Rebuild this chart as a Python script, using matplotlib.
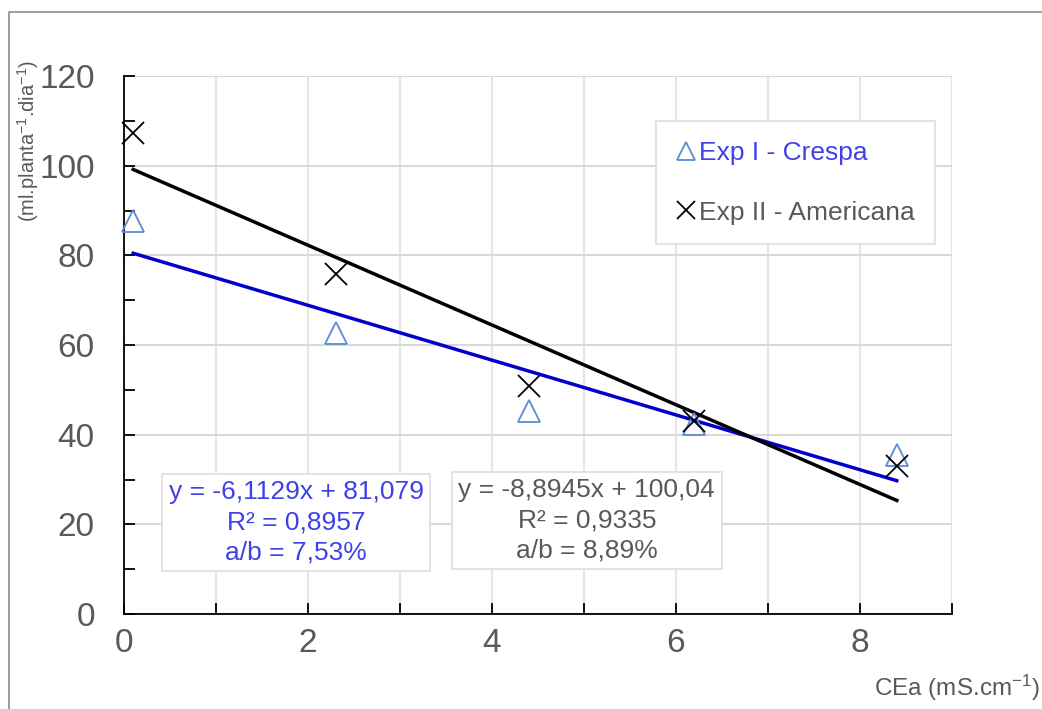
import matplotlib.pyplot as plt
import matplotlib
from matplotlib.lines import Line2D
from matplotlib.patches import Rectangle
from matplotlib.ticker import MultipleLocator

matplotlib.rcParams['font.family'] = 'Liberation Sans'
matplotlib.rcParams['mathtext.fontset'] = 'custom'
matplotlib.rcParams['mathtext.rm'] = 'Liberation Sans'
matplotlib.rcParams['mathtext.it'] = 'Liberation Sans'

# CEa (mS/cm) and water consumption for each experiment
cea = [0.1, 2.3, 4.4, 6.2, 8.4]
crespa = [87.7, 62.7, 45.3, 42.4, 35.5]
americana = [107.3, 75.8, 50.9, 43.0, 33.0]

# linear fits (slope, intercept) as reported
fit_crespa = (-6.1129, 81.079)
fit_americana = (-8.8945, 100.04)
eq_crespa = "y = -6,1129x + 81,079\nR² = 0,8957\na/b = 7,53%"
eq_americana = "y = -8,8945x + 100,04\nR² = 0,9335\na/b = 8,89%"

GREY = "#595959"
TRI = "#5B8BD6"
BLUE_TXT = "#4040E8"

fig = plt.figure(figsize=(10.42, 7.09), dpi=100)
fig.patches.append(Rectangle((9 / 1042, -0.1), 1.2, 1.1 - 12 / 709, transform=fig.transFigure,
                             fill=False, edgecolor="#8c8c8c", linewidth=1.2))
ax = fig.add_axes([124 / 1042, 1 - 614 / 709, 828 / 1042, 538 / 709])

x0, x1 = cea[0], cea[-1]
ax.plot([x0, x1], [fit_crespa[0] * x0 + fit_crespa[1], fit_crespa[0] * x1 + fit_crespa[1]],
        color="#0000CC", linewidth=2.5, zorder=3)
ax.plot([x0, x1], [fit_americana[0] * x0 + fit_americana[1], fit_americana[0] * x1 + fit_americana[1]],
        color="black", linewidth=2.5, zorder=3)
ax.plot(cea, crespa, linestyle="none", marker="^", markersize=16, markerfacecolor="none",
        markeredgecolor=TRI, markeredgewidth=1.3, zorder=4, clip_on=False)
ax.plot(cea, americana, linestyle="none", marker="x", markersize=16, color="black",
        markeredgewidth=1.3, zorder=4, clip_on=False)

ax.set_xlim(0, 9)
ax.set_ylim(0, 120)
ax.xaxis.set_major_locator(MultipleLocator(2))
ax.xaxis.set_minor_locator(MultipleLocator(1))
ax.yaxis.set_major_locator(MultipleLocator(20))
ax.yaxis.set_minor_locator(MultipleLocator(10))
ax.grid(True, which="major", axis="y", color="#D9D9D9", linewidth=1.5)
ax.grid(True, which="both", axis="x", color="#E6E6E6", linewidth=1.5)
ax.set_axisbelow(True)
ax.tick_params(which="both", direction="in", length=8, width=1.3, colors="black",
               labelcolor=GREY, labelsize=24)
ax.tick_params(axis="y", pad=21)
ax.tick_params(axis="x", pad=10)
ax.spines["top"].set_visible(False)
ax.spines["right"].set_visible(False)
ax.spines["left"].set_linewidth(1.3)
ax.spines["bottom"].set_linewidth(1.3)

fig.text(28 / 1042, 1 - 141 / 709, r"(ml.planta$^{-1}$.dia$^{-1}$)", rotation=90,
         ha="center", va="center", fontsize=14.5, color=GREY)
fig.text(1040 / 1042, 1 - 688 / 709, r"CEa (mS.cm$^{-1}$)", ha="right", va="center",
         fontsize=17.5, color=GREY)

handles = [
    Line2D([], [], linestyle="none", marker="^", markersize=13, markerfacecolor="none",
           markeredgecolor=TRI, markeredgewidth=1.3),
    Line2D([], [], linestyle="none", marker="x", markersize=13, color="black", markeredgewidth=1.3),
]
leg = ax.legend(handles, ["Exp I - Crespa", "Exp II - Americana"], loc="upper right",
                bbox_to_anchor=(0.979, 0.916), fontsize=19, frameon=True, fancybox=False,
                edgecolor="#E0E0E0", framealpha=1, handlelength=0.8, handletextpad=0.1,
                labelspacing=1.35, borderpad=0.75, borderaxespad=0)
leg.get_frame().set_linewidth(1.3)
leg.get_texts()[0].set_color(BLUE_TXT)
leg.get_texts()[1].set_color(GREY)

box = dict(boxstyle="square,pad=0.25", facecolor="white", edgecolor="#E0E0E0", linewidth=1.3)
ax.text(1.87, 20.4, eq_crespa, ha="center", va="center", multialignment="center",
        fontsize=19, color=BLUE_TXT, bbox=box, linespacing=1.32, zorder=5)
ax.text(5.03, 20.9, eq_americana, ha="center", va="center", multialignment="center",
        fontsize=19, color=GREY, bbox=box, linespacing=1.32, zorder=5)

fig.savefig("out.png", facecolor="white")
